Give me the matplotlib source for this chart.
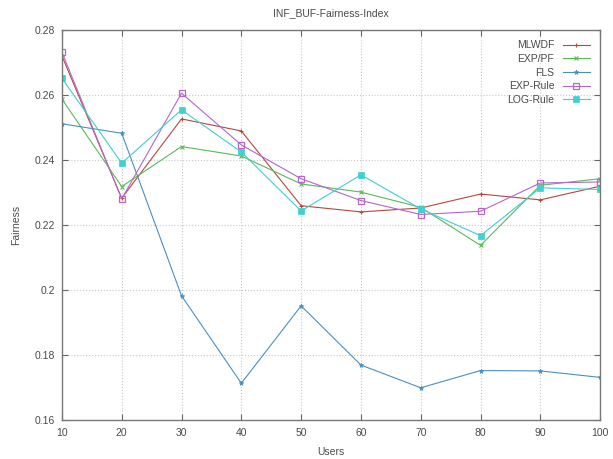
import matplotlib
matplotlib.use("Agg")
import matplotlib.pyplot as plt
from matplotlib.ticker import FixedLocator, FuncFormatter

users = [10, 20, 30, 40, 50, 60, 70, 80, 90, 100]
mlwdf = [0.2720, 0.2282, 0.2526, 0.2489, 0.2259, 0.2240, 0.2252, 0.2295, 0.2277, 0.2319]
exp_pf = [0.2587, 0.2318, 0.2441, 0.2412, 0.2326, 0.2301, 0.2254, 0.2137, 0.2322, 0.2342]
fls = [0.2511, 0.2482, 0.1982, 0.1713, 0.1951, 0.1769, 0.1699, 0.1752, 0.1751, 0.1731]
exp_rule = [0.2731, 0.2280, 0.2605, 0.2446, 0.2342, 0.2275, 0.2232, 0.2242, 0.2329, 0.2332]
log_rule = [0.2651, 0.2390, 0.2554, 0.2424, 0.2243, 0.2354, 0.2249, 0.2167, 0.2314, 0.2309]

y_ticks = [0.16, 0.18, 0.20, 0.22, 0.24, 0.26, 0.28]
x_ticks = users

plt.rcParams['font.family'] = ['Liberation Sans', 'DejaVu Sans']

fig = plt.figure(figsize=(6.13, 4.59), dpi=100)
ax = fig.add_axes([0.101, 0.085, 0.878, 0.85])

txt = '#4a4a4a'
ax.plot(users, mlwdf, color='#b5483a', lw=0.8, marker='+', ms=3.5, mew=0.8, label='MLWDF')
ax.plot(users, exp_pf, color='#5cb85c', lw=0.8, marker='x', ms=2.8, mew=0.8, label='EXP/PF')
ax.plot(users, fls, color='#4a8fc4', lw=0.8, marker='*', ms=3.5, mew=0.5, label='FLS')
ax.plot(users, exp_rule, color='#b566cc', lw=0.8, marker='s', ms=4.2, mfc='none', mew=0.9, label='EXP-Rule')
ax.plot(users, log_rule, color='#3fd0d0', lw=0.8, marker='s', ms=3.8, mew=0.5, label='LOG-Rule')

ax.set_xlim(10, 100)
ax.set_ylim(0.16, 0.28)
ax.xaxis.set_major_locator(FixedLocator(x_ticks))
ax.yaxis.set_major_locator(FixedLocator(y_ticks))
ax.yaxis.set_major_formatter(FuncFormatter(lambda v, p: ('%g' % round(v, 4))))
ax.grid(True, color='#c8c8c8', linestyle=':', lw=0.8)
ax.tick_params(direction='in', top=True, right=True, length=4, width=0.8,
               colors='#666666', labelcolor=txt, labelsize=7.5)
ax.tick_params(axis='x', pad=6)
ax.tick_params(axis='y', pad=5)
for s in ax.spines.values():
    s.set_color('#777777')
    s.set_linewidth(1.0)

ax.set_title('INF_BUF-Fairness-Index', fontsize=7.5, color=txt, pad=10)
ax.set_xlabel('Users', fontsize=7.5, color=txt, labelpad=6)
ax.set_ylabel('Fairness', fontsize=7.5, color=txt, labelpad=10)

leg = ax.legend(loc='upper right', frameon=False, fontsize=7.5, markerfirst=False,
                handlelength=2.6, labelspacing=0.35, borderaxespad=0.6, handletextpad=0.8)
for t in leg.get_texts():
    t.set_color(txt)

fig.savefig('out.png', dpi=100)
